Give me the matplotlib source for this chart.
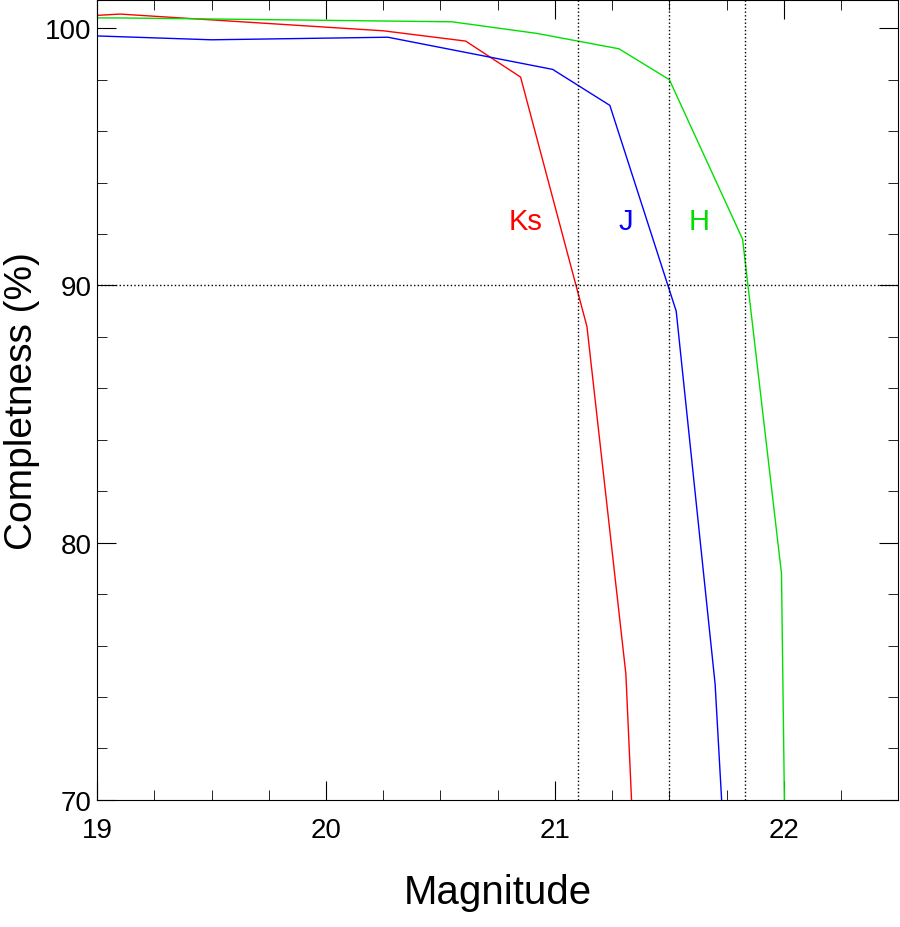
import matplotlib.pyplot as plt
from matplotlib.ticker import MultipleLocator

plt.rcParams['font.family'] = 'Liberation Sans'

ks_mag = [19.0, 19.1, 20.25, 20.61, 20.85, 21.14, 21.31, 21.36]
ks_comp = [100.5, 100.55, 99.9, 99.5, 98.1, 88.4, 74.9, 65.0]
j_mag = [19.0, 19.5, 20.27, 20.99, 21.24, 21.53, 21.7, 21.76]
j_comp = [99.7, 99.55, 99.65, 98.4, 97.0, 89.0, 74.5, 65.0]
h_mag = [19.0, 19.1, 20.55, 20.92, 21.28, 21.5, 21.82, 21.99, 22.01]
h_comp = [100.4, 100.4, 100.25, 99.8, 99.2, 98.0, 91.8, 78.8, 65.0]
limits = [21.1, 21.5, 21.83]

fig = plt.figure(figsize=(9, 9.28), dpi=100)
ax = fig.add_axes([0.108, 0.137, 0.89, 0.862])
ax.plot(ks_mag, ks_comp, color='red', lw=1)
ax.plot(j_mag, j_comp, color='blue', lw=1)
ax.plot(h_mag, h_comp, color='#00e000', lw=1)
for x in limits:
    ax.axvline(x, color='black', ls=':', lw=1)
ax.axhline(90, color='black', ls=':', lw=1)
ax.text(20.87, 92.5, 'Ks', color='red', fontsize=21, ha='center', va='center')
ax.text(21.31, 92.5, 'J', color='blue', fontsize=21, ha='center', va='center')
ax.text(21.63, 92.5, 'H', color='#00e000', fontsize=21, ha='center', va='center')

ax.set_xlim(19, 22.5)
ax.set_ylim(70, 101.1)
ax.xaxis.set_major_locator(MultipleLocator(1))
ax.xaxis.set_minor_locator(MultipleLocator(0.25))
ax.yaxis.set_major_locator(MultipleLocator(10))
ax.yaxis.set_minor_locator(MultipleLocator(2))
ax.tick_params(which='both', direction='in', top=True, right=True, labelsize=20)
ax.tick_params(axis='x', pad=12)
ax.tick_params(axis='y', pad=4)
ax.tick_params(which='major', length=14)
ax.tick_params(which='minor', length=7)
ax.set_xlabel('Magnitude', fontsize=29, labelpad=22)
ax.set_ylabel('Completness (%)', fontsize=28, labelpad=4)
fig.savefig('out.png')
